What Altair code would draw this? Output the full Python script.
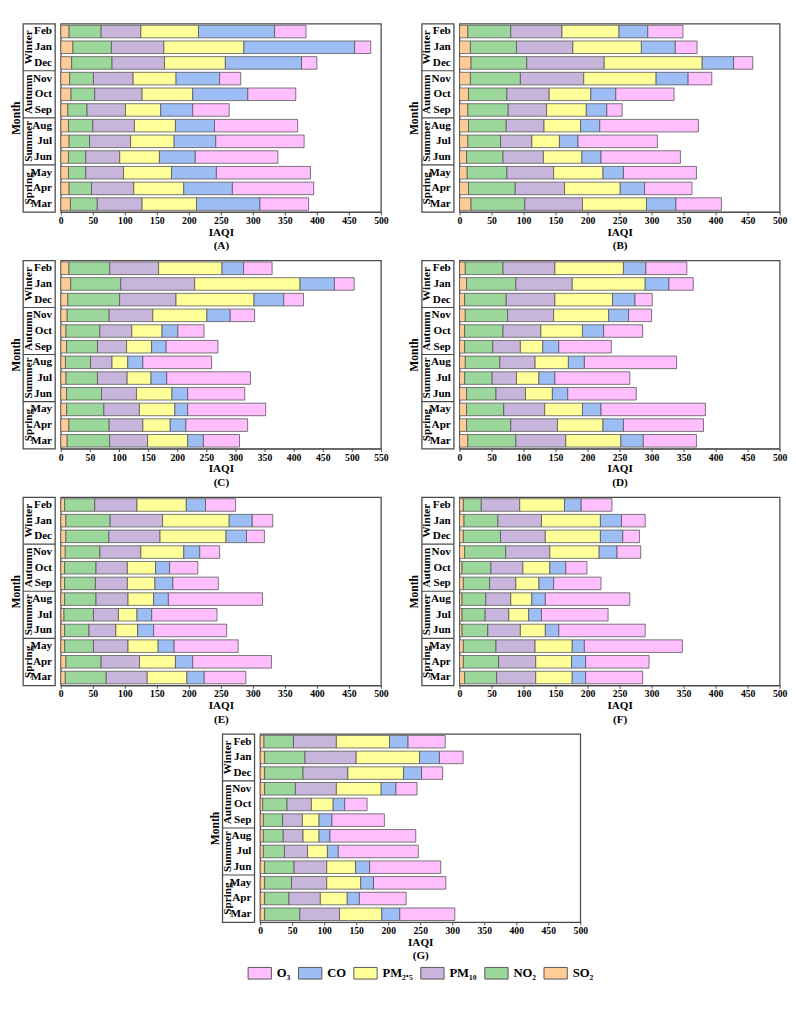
import altair as alt
import pandas as pd

FONT = "Liberation Serif"

# rows from top to bottom
MONTHS = ["Feb", "Jan", "Dec", "Nov", "Oct", "Sep", "Aug", "Jul", "Jun", "May", "Apr", "Mar"]
SEASONS = ["Winter", "Autumn", "Summer", "Spring"]
SEASON_CENTER = ["Jan", "Oct", "Jul", "Apr"]
SEPARATORS = ["Nov", "Aug", "May"]

# stacking order (left to right)
POLLUTANTS = ["SO₂", "NO₂", "PM₁₀", "PM₂.₅", "CO", "O₃"]
LEGEND_ORDER = ["O₃", "CO", "PM₂.₅", "PM₁₀", "NO₂", "SO₂"]
COLORS = ["#FFBFFF", "#9DBEF5", "#FFFF99", "#C8B5DB", "#9BD79B", "#FFCB96"]

# cumulative IAQI at the right end of each segment: SO2, NO2, PM10, PM2.5, CO, O3
A = [[13, 63, 125, 215, 334, 383], [19, 79, 161, 286, 459, 484], [17, 80, 162, 257, 376, 400],
     [14, 51, 113, 180, 248, 281], [16, 53, 127, 206, 292, 367], [11, 41, 101, 156, 206, 263],
     [12, 50, 115, 179, 240, 370], [13, 45, 109, 177, 242, 380], [12, 39, 92, 154, 210, 339],
     [12, 39, 98, 173, 243, 390], [13, 48, 114, 192, 268, 395], [15, 57, 127, 212, 311, 387]]
B = [[13, 80, 160, 249, 294, 349], [17, 89, 177, 284, 337, 371], [18, 105, 226, 379, 428, 458],
     [17, 95, 194, 307, 357, 394], [14, 74, 140, 205, 244, 335], [13, 76, 136, 198, 230, 254],
     [14, 73, 132, 189, 219, 373], [13, 64, 113, 156, 185, 309], [11, 68, 131, 191, 221, 345],
     [12, 74, 147, 224, 256, 370], [14, 87, 164, 251, 289, 363], [18, 102, 192, 292, 338, 409]]
C = [[14, 84, 168, 277, 314, 363], [17, 103, 230, 411, 470, 504], [12, 101, 198, 332, 383, 417],
     [11, 83, 158, 251, 291, 333], [9, 67, 122, 174, 201, 246], [10, 63, 113, 156, 181, 270],
     [8, 51, 88, 115, 141, 259], [9, 63, 114, 155, 182, 326], [10, 70, 130, 191, 218, 316],
     [10, 74, 135, 196, 218, 352], [14, 83, 141, 188, 215, 321], [11, 84, 149, 218, 245, 307]]
D = [[9, 68, 149, 256, 291, 355], [11, 88, 176, 290, 327, 365], [8, 73, 149, 239, 274, 301],
     [9, 75, 147, 233, 264, 300], [8, 68, 127, 192, 225, 286], [8, 52, 95, 130, 155, 237],
     [9, 63, 118, 170, 195, 339], [8, 51, 89, 124, 149, 266], [11, 57, 103, 145, 169, 276],
     [11, 69, 133, 192, 221, 384], [11, 80, 153, 224, 256, 381], [13, 88, 166, 252, 287, 370]]
E = [[6, 53, 119, 196, 226, 273], [8, 77, 159, 263, 299, 331], [8, 75, 155, 258, 290, 318],
     [7, 61, 125, 192, 217, 248], [6, 55, 104, 148, 170, 214], [6, 54, 104, 147, 175, 246],
     [6, 55, 105, 145, 168, 315], [5, 51, 90, 119, 142, 244], [6, 44, 86, 120, 145, 259],
     [6, 51, 105, 152, 177, 277], [8, 63, 123, 179, 206, 329], [7, 71, 135, 197, 224, 289]]
F = [[6, 34, 94, 164, 190, 238], [7, 60, 128, 220, 253, 290], [6, 64, 134, 220, 255, 281],
     [8, 72, 141, 218, 246, 283], [4, 49, 99, 141, 166, 199], [6, 47, 88, 124, 147, 221],
     [4, 41, 80, 113, 134, 266], [4, 40, 77, 108, 128, 232], [4, 44, 95, 134, 155, 290],
     [6, 57, 118, 176, 195, 348], [6, 61, 119, 175, 197, 296], [8, 58, 119, 176, 197, 286]]
G = [[6, 52, 119, 202, 231, 289], [7, 70, 150, 249, 280, 317], [7, 67, 137, 224, 252, 285],
     [7, 55, 119, 189, 212, 245], [4, 42, 80, 114, 132, 167], [5, 35, 66, 92, 112, 194],
     [5, 36, 67, 92, 109, 243], [5, 38, 74, 105, 122, 247], [7, 53, 104, 149, 171, 282],
     [7, 49, 104, 157, 177, 290], [7, 45, 94, 136, 155, 228], [7, 62, 124, 190, 218, 304]]

LW = 33      # label column width
W = 330      # plot width
H = 194      # plot height
FRAME = "#4a4a4a"

legend = alt.Legend(
    orient="none", legendX=232, legendY=966, direction="horizontal", title=None,
    symbolType="M-1,-0.5H1V0.5H-1Z", symbolSize=576, symbolStrokeColor="#555555",
    symbolStrokeWidth=1, symbolOpacity=1, labelFont=FONT, labelFontWeight="bold",
    labelFontSize=13, labelColor="black", columnPadding=5, labelOffset=5,
)


def to_long(ends):
    rows = []
    for m, row in zip(MONTHS, ends):
        prev = 0
        for k, (p, e) in enumerate(zip(POLLUTANTS, row)):
            rows.append({"month": m, "pollutant": p, "value": e - prev, "order": k})
            prev = e
    return pd.DataFrame(rows)


def panel(letter, ends, xmax):
    df = to_long(ends)
    yscale = alt.Scale(domain=MONTHS, paddingInner=0, paddingOuter=0)
    bars = alt.Chart(df).mark_bar(
        height={"band": 0.8}, stroke="#555555", strokeWidth=0.8
    ).encode(
        x=alt.X("value:Q", stack="zero", scale=alt.Scale(domain=[0, xmax], nice=False),
                axis=alt.Axis(values=list(range(0, xmax + 1, 50)), title=["IAQI", f"({letter})"],
                              labelFlush=False, titlePadding=1)),
        y=alt.Y("month:N", scale=yscale, axis=None),
        color=alt.Color("pollutant:N", scale=alt.Scale(domain=LEGEND_ORDER, range=COLORS), legend=legend),
        order=alt.Order("order:Q"),
    ).properties(width=W, height=H)

    yaxis = alt.Axis(title="Month", labels=False, ticks=False, domain=False, grid=False,
                     titleFont=FONT, titleFontWeight="bold", titleFontSize=12, titlePadding=1)
    mt = alt.Chart(pd.DataFrame({"month": MONTHS})).mark_text(
        align="right", baseline="middle", font=FONT, fontWeight="bold", fontSize=11.5, color="black"
    ).encode(y=alt.Y("month:N", scale=yscale, axis=yaxis), x=alt.value(LW - 3), text="month:N")
    st = alt.Chart(pd.DataFrame({"season": SEASONS, "month": SEASON_CENTER})).mark_text(
        angle=270, align="center", baseline="middle", font=FONT, fontWeight="bold", fontSize=11.5, color="black"
    ).encode(y=alt.Y("month:N", scale=yscale, axis=yaxis), x=alt.value(6), text="season:N")
    sep = alt.Chart(pd.DataFrame({"month": SEPARATORS})).mark_rule(color=FRAME, strokeWidth=1.2).encode(
        y=alt.Y("month:N", scale=yscale, bandPosition=0, axis=yaxis), x=alt.value(0), x2=alt.value(LW))
    labels = alt.layer(mt, st, sep).properties(width=LW, height=H)

    return alt.hconcat(labels, bars, spacing=0).resolve_scale(y="independent").resolve_axis(y="independent")


row1 = alt.hconcat(panel("A", A, 500), panel("B", B, 500), spacing=18)
row2 = alt.hconcat(panel("C", C, 550), panel("D", D, 500), spacing=18)
row3 = alt.hconcat(panel("E", E, 500), panel("F", F, 500), spacing=18)
row4 = panel("G", G, 500)

chart = alt.vconcat(row1, row2, row3, row4, spacing=7, center=True).properties(
    padding=0
).configure_view(
    stroke=FRAME, strokeWidth=1.3
).configure_axis(
    labelFont=FONT, labelFontWeight="bold", labelFontSize=10, labelColor="black",
    titleFont=FONT, titleFontWeight="bold", titleFontSize=11.5, titleColor="black",
    titleLineHeight=14, tickColor=FRAME, domainColor=FRAME, tickSize=3, grid=False,
    labelPadding=1,
)

chart.save("out.html", embed_options={"renderer": "svg", "actions": False})
